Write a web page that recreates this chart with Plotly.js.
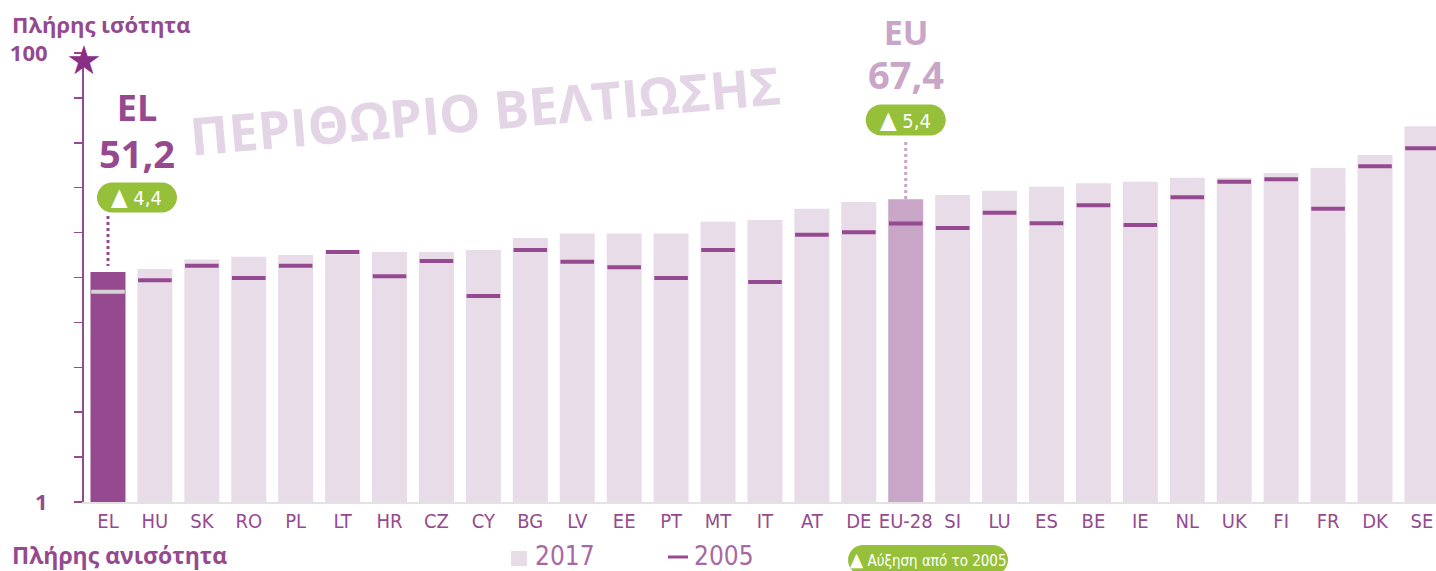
<!DOCTYPE html>
<html>
<head>
<meta charset="utf-8">
<script src="https://cdn.plot.ly/plotly-3.0.1.min.js"></script>
<style>html,body{margin:0;padding:0;background:#fff;}#chart{width:1436px;height:571px;}</style>
</head>
<body>
<div id="chart"></div>
<script>
// ---- data ----
const categories = ['EL','HU','SK','RO','PL','LT','HR','CZ','CY','BG','LV','EE','PT','MT','IT','AT','DE','EU-28','SI','LU','ES','BE','IE','NL','UK','FI','FR','DK','SE'];
const values2017 = [51.2,51.9,54.0,54.6,55.0,55.2,55.7,55.7,56.1,58.8,59.8,59.8,59.8,62.4,62.8,65.3,66.8,67.4,68.4,69.3,70.2,71.0,71.3,72.2,72.2,73.3,74.4,77.3,83.7];
const values2005 = [46.8,49.4,52.6,49.9,52.6,55.7,50.3,53.7,45.9,56.1,53.5,52.3,49.9,56.1,49.0,59.5,60.1,62.0,61.0,64.4,62.1,66.1,61.7,67.9,71.3,71.9,65.3,74.8,78.8];
const yTickVals = [0,10,20,30,40,50,60,70,80,90,100];
const yTickText = ['1','','','','','','','','','','100'];
const highlightCountry = 'EL';
const highlightEU = 'EU-28';

// ---- styles ----
const PURPLE = '#954a90';
const LIGHT = '#e8dce9';
const EUCOL = '#c9a5c8';
const GREEN = '#96c03a';
const COND = '"Liberation Sans Narrow","DejaVu Sans Condensed","Roboto Condensed","Arial Narrow",sans-serif';
const SANS = '"Open Sans","Noto Sans",sans-serif';

const L = 84, T = 53, B = 69, PH = 449;
const py = p => (502 - p) / PH; // pixel row -> paper y

const barColors = categories.map(c => c === highlightCountry ? PURPLE : (c === highlightEU ? EUCOL : LIGHT));
const markColors = categories.map(c => c === highlightCountry ? '#d4d4d4' : PURPLE);

const fmt = v => v.toFixed(1).replace('.', ',');
const iEL = categories.indexOf(highlightCountry);
const iEU = categories.indexOf(highlightEU);
const dEL = values2017[iEL] - values2005[iEL];
const dEU = values2017[iEU] - values2005[iEU];
const tri = '<span style="font-size:24px">▲</span> ';

function pill(w, h) {
  const x0 = -w/2, x1 = w/2, y0 = -h/2, y1 = h/2, r = h/2;
  return `M ${x0+r} ${y0} L ${x1-r} ${y0} C ${x1-r+r*0.55} ${y0} ${x1} ${y0+r*0.45} ${x1} ${y0+r} ` +
         `C ${x1} ${y1-r*0.45} ${x1-r+r*0.55} ${y1} ${x1-r} ${y1} L ${x0+r} ${y1} ` +
         `C ${x0+r-r*0.55} ${y1} ${x0} ${y1-r*0.45} ${x0} ${y1-r} C ${x0} ${y0+r*0.45} ${x0+r-r*0.55} ${y0} ${x0+r} ${y0} Z`;
}

const traces = [
  {type:'bar', x: categories, y: values2017, width: 0.746, marker:{color: barColors}, hoverinfo:'x+y', name:'2017'},
  {type:'scatter', mode:'markers', x: categories, y: values2005, marker:{symbol:'line-ew', size:24, line:{width:4, color: markColors}}, name:'2005'}
];

const shapes = [
  {type:'path', xref:'x', yref:'paper', xsizemode:'pixel', ysizemode:'pixel', xanchor: iEL + 29/46.93, yanchor: py(197.5), path: pill(80, 30), fillcolor: GREEN, line:{width:0}},
  {type:'path', xref:'x', yref:'paper', xsizemode:'pixel', ysizemode:'pixel', xanchor: iEU, yanchor: py(120), path: pill(80, 31), fillcolor: GREEN, line:{width:0}},
  {type:'path', xref:'paper', yref:'paper', xsizemode:'pixel', ysizemode:'pixel', xanchor: (928-L)/1352, yanchor: py(560), path: pill(160, 30), fillcolor: GREEN, line:{width:0}},
  {type:'line', xref:'x', yref:'paper', x0: iEL, x1: iEL, y0: py(216), y1: py(266), line:{color: PURPLE, width:3, dash:'dot'}},
  {type:'line', xref:'x', yref:'paper', x0: iEU, x1: iEU, y0: py(142), y1: py(200), line:{color: EUCOL, width:3, dash:'dot'}},
  {type:'rect', xref:'paper', yref:'paper', x0:(511-L)/1352, x1:(527-L)/1352, y0: py(566), y1: py(551), fillcolor: LIGHT, line:{width:0}},
  {type:'line', xref:'paper', yref:'paper', x0:(668-L)/1352, x1:(688-L)/1352, y0: py(557), y1: py(557), line:{color: PURPLE, width:3}}
];

const ann = (o) => Object.assign({showarrow:false}, o);
const annotations = [
  ann({xref:'paper', yref:'paper', x:(10-L)/1352, y: py(24), xanchor:'left', yanchor:'middle', text:'Πλήρης ισότητα', font:{family:SANS, size:22, color:PURPLE, weight:'bold'}}),
  ann({xref:'paper', yref:'paper', x:(10-L)/1352, y: py(555), xanchor:'left', yanchor:'middle', text:'Πλήρης ανισότητα', font:{family:SANS, size:23, color:PURPLE, weight:'bold'}}),
  ann({xref:'paper', yref:'paper', x:0, y: py(60), xanchor:'center', yanchor:'middle', text:'★', font:{family:'DejaVu Sans', size:40, color:'#8a2f85'}}),
  ann({xref:'paper', yref:'paper', x:(485-L)/1352, y: py(110), xanchor:'center', yanchor:'middle', textangle:-5, text:'ΠΕΡΙΘΩΡΙΟ ΒΕΛΤΙΩΣΗΣ', font:{family:SANS, size:52, color:'#e3d4e6', weight:'bold'}}),
  ann({xref:'x', yref:'paper', x: iEL, xshift:29, y: py(131), yanchor:'middle', text: highlightCountry + '<br><span style="font-size:38px">' + fmt(values2017[iEL]) + '</span>', font:{family:SANS, size:36, color:PURPLE, weight:'bold'}}),
  ann({xref:'x', yref:'paper', x: iEL, xshift:29, y: py(197.5), yanchor:'middle', text: tri + fmt(dEL), font:{family:COND, size:20, color:'#ffffff'}}),
  ann({xref:'x', yref:'paper', x: iEU, y: py(54.5), yanchor:'middle', text: 'EU<br><span style="font-size:38px">' + fmt(values2017[iEU]) + '</span>', font:{family:SANS, size:34, color:EUCOL, weight:'bold'}}),
  ann({xref:'x', yref:'paper', x: iEU, y: py(120), yanchor:'middle', text: tri + fmt(dEU), font:{family:COND, size:20, color:'#ffffff'}}),
  ann({xref:'paper', yref:'paper', x:(533-L)/1352, y: py(556), xanchor:'left', yanchor:'middle', text:'2017', font:{family:COND, size:26, color:'#a869a3'}}),
  ann({xref:'paper', yref:'paper', x:(692-L)/1352, y: py(556), xanchor:'left', yanchor:'middle', text:'2005', font:{family:COND, size:26, color:'#a869a3'}}),
  ann({xref:'paper', yref:'paper', x:(928-L)/1352, y: py(559), xanchor:'center', yanchor:'middle', text:'<span style="font-size:19px">▲</span> Αύξηση από το 2005', font:{family:COND, size:15, color:'#ffffff'}})
];

const layout = {
  width:1436, height:571,
  margin:{l:L, r:0, t:T, b:B, pad:0},
  paper_bgcolor:'#ffffff', plot_bgcolor:'#ffffff',
  showlegend:false,
  bargap:0.25,
  xaxis:{type:'category', range:[-0.511, 28.3], showgrid:false, zeroline:false, showline:true, linecolor:'#e2e2e2', linewidth:2,
         ticks:'', tickfont:{family:COND, size:20, color:PURPLE}, fixedrange:true},
  yaxis:{range:[0,100], showgrid:false, zeroline:false, showline:true, linecolor:PURPLE, linewidth:2,
         tickvals:yTickVals, ticktext:yTickText, ticks:'outside', ticklen:8, tickwidth:1.5, tickcolor:PURPLE,
         ticklabelstandoff:22, tickfont:{family:SANS, size:22, color:PURPLE, weight:'bold'}, fixedrange:true},
  shapes: shapes,
  annotations: annotations
};

Plotly.newPlot('chart', traces, layout, {displayModeBar:false, staticPlot:true});
</script>
</body>
</html>
